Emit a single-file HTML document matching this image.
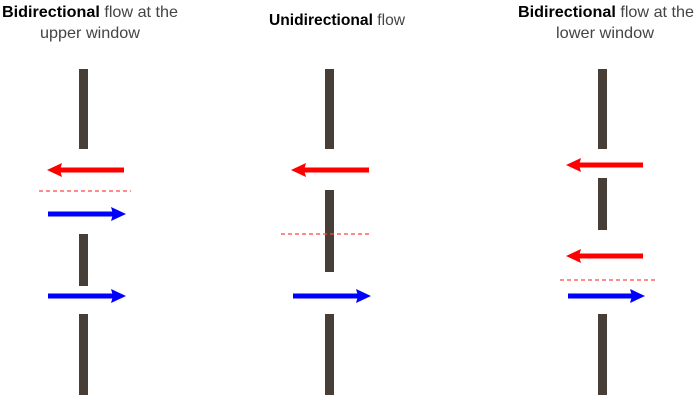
<!DOCTYPE html>
<html><head><style>
body{margin:0;background:#fff;}
svg text{font-family:"Liberation Sans",sans-serif;font-size:16px;fill:#444;}
svg text tspan.b{fill:#000;font-weight:bold;}
</style></head><body>
<svg width="699" height="403" viewBox="0 0 699 403" xmlns="http://www.w3.org/2000/svg">
<text x="2" y="17" textLength="176" lengthAdjust="spacingAndGlyphs"><tspan class="b">Bidirectional</tspan> flow at the</text>
<text x="40" y="38" textLength="100" lengthAdjust="spacingAndGlyphs">upper window</text>
<text x="269" y="25" textLength="136" lengthAdjust="spacingAndGlyphs"><tspan class="b">Unidirectional</tspan> flow</text>
<text x="518" y="17" textLength="176" lengthAdjust="spacingAndGlyphs"><tspan class="b">Bidirectional</tspan> flow at the</text>
<text x="556" y="38" textLength="98" lengthAdjust="spacingAndGlyphs">lower window</text>
<g fill="#483e38">
<rect x="79" y="69" width="9" height="80"/><rect x="79" y="234" width="9" height="52"/><rect x="79" y="314" width="9" height="81"/>
<rect x="325" y="69" width="9" height="80"/><rect x="325" y="190" width="9" height="82"/><rect x="325" y="314" width="9" height="81"/>
<rect x="598" y="69" width="9" height="80"/><rect x="598" y="178" width="9" height="52"/><rect x="598" y="314" width="9" height="81"/>
</g>
<g stroke="#f44" stroke-width="1.3" stroke-dasharray="4,3">
<line x1="39" y1="191" x2="131" y2="191"/>
<line x1="281" y1="234" x2="372" y2="234"/>
<line x1="560" y1="280" x2="657" y2="280"/>
</g>
<g stroke-width="5">
<g stroke="#f00"><line x1="124" y1="170" x2="60" y2="170"/><line x1="369" y1="170" x2="304" y2="170"/><line x1="643" y1="165" x2="579" y2="165"/><line x1="643" y1="256" x2="579" y2="256"/></g>
<g stroke="#00f"><line x1="48" y1="214" x2="113" y2="214"/><line x1="48" y1="296" x2="113" y2="296"/><line x1="293" y1="296" x2="358" y2="296"/><line x1="568" y1="296" x2="632" y2="296"/></g>
</g>
<g fill="#f00">
<path d="M47,170 L62,163 L60,170 L62,177z"/><path d="M291,170 L306,163 L304,170 L306,177z"/><path d="M566,165 L581,158 L579,165 L581,172z"/><path d="M566,256 L581,249 L579,256 L581,263z"/>
</g>
<g fill="#00f">
<path d="M126,214 L111,207 L113,214 L111,221z"/><path d="M126,296 L111,289 L113,296 L111,303z"/><path d="M371,296 L356,289 L358,296 L356,303z"/><path d="M645,296 L630,289 L632,296 L630,303z"/>
</g>
</svg>
</body></html>
